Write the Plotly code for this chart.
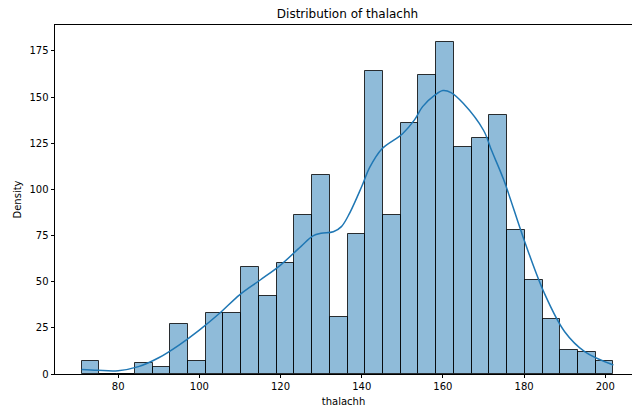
import numpy as np
import plotly.graph_objects as go

# Histogram data (counts per bin), 30 equal bins from 71 to 202
bin_start = 71
bin_end = 202
counts = [7, 0, 0, 6, 4, 27, 7, 33, 33, 58,
          42, 60, 86, 108, 31, 76, 164, 86, 136, 162,
          180, 123, 128, 140, 78, 51, 30, 13, 12, 7]

# KDE curve (count scale)
kde_x = [71, 75, 80, 85, 90, 95, 100, 105, 110, 115, 120, 125, 128, 130, 133,
         135, 137, 140, 142, 145, 150, 153, 155, 158, 160, 162, 165, 170, 172,
         175, 180, 185, 190, 195, 202]
kde_y = [2.5, 2.0, 1.8, 4.0, 8.8, 15.7, 23.8, 32.9, 43.0, 50.9, 59.0, 69.0, 74.8,
         76.2, 77.0, 79.8, 87.0, 101.5, 112.0, 122.0, 130.0, 137.6, 144.8, 151.0,
         153.5, 152.4, 146.6, 132.0, 121.0, 105.0, 72.6, 43.7, 22.9, 12.0, 4.9]

x_ticks = [80, 100, 120, 140, 160, 180, 200]
y_ticks = [0, 25, 50, 75, 100, 125, 150, 175]

edges = np.linspace(bin_start, bin_end, len(counts) + 1)
centers = (edges[:-1] + edges[1:]) / 2
width = edges[1] - edges[0]

W, H = 632, 408
left, top, bottom = 55, 25, 374
span = bin_end - bin_start
x0 = bin_start - 0.05 * span
x_full_end = bin_end + 0.05 * span
px_per_unit = (640 - left) / (x_full_end - x0)
x1 = x0 + (W - left) / px_per_unit
ymax = max(counts) * 1.05

fig = go.Figure()
fig.add_trace(go.Bar(
    x=centers, y=counts, width=width,
    marker=dict(color="rgba(31,119,180,0.5)",
                line=dict(color="rgba(0,0,0,0.8)", width=1)),
    hoverinfo="x+y", showlegend=False,
))
fig.add_trace(go.Scatter(
    x=kde_x, y=kde_y, mode="lines",
    line=dict(color="#1f77b4", width=1.5, shape="spline", smoothing=1.0),
    showlegend=False,
))

font = dict(family="DejaVu Sans", size=10, color="#000")
fig.update_layout(
    width=W, height=H,
    margin=dict(l=left, r=0, t=top, b=H - bottom),
    paper_bgcolor="white", plot_bgcolor="white",
    font=font,
    bargap=0,
    title=dict(text="Distribution of thalachh", x=(left + 640) / 2 / W, xanchor="center",
               y=1 - 14 / H, yanchor="middle", font=dict(family="DejaVu Sans", size=12, color="#000")),
    xaxis=dict(range=[x0, x1], tickvals=x_ticks, ticks="outside", ticklen=3.5, tickwidth=0.8,
               tickcolor="#000", showgrid=False, zeroline=False, showline=True, linecolor="#000",
               linewidth=0.8, mirror=True,
               title=dict(text="thalachh", font=dict(family="DejaVu Sans", size=10), standoff=6)),
    yaxis=dict(range=[0, ymax], tickvals=y_ticks, ticks="outside", ticklen=3.5, tickwidth=0.8,
               tickcolor="#000", showgrid=False, zeroline=False, showline=True, linecolor="#000",
               linewidth=0.8,
               title=dict(text="Density", font=dict(family="DejaVu Sans", size=10), standoff=6)),
)

fig.write_html("out.html")
